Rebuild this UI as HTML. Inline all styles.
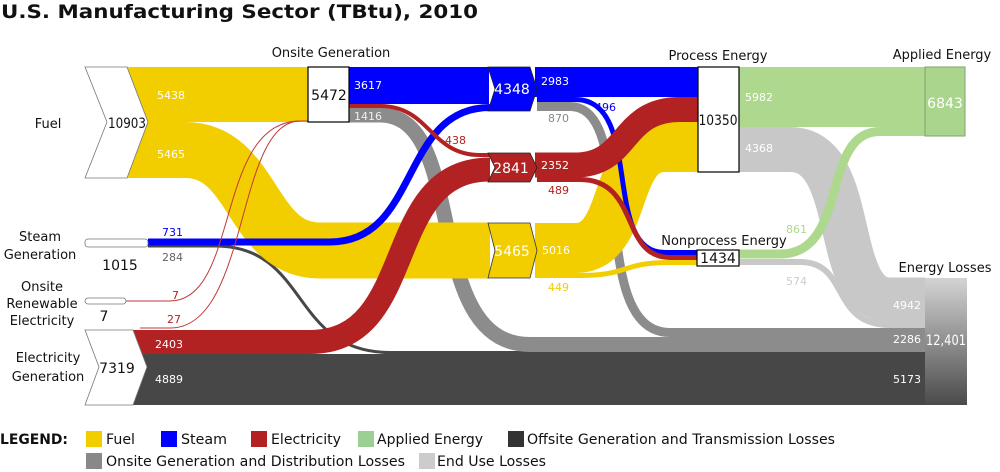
<!DOCTYPE html>
<html><head><meta charset="utf-8"><style>
html,body{margin:0;padding:0;background:#fff;}
svg{display:block;font-family:"DejaVu Sans","Liberation Sans",sans-serif;}
</style></head><body>
<svg width="1000" height="472" viewBox="0 0 1000 472" xmlns="http://www.w3.org/2000/svg">
<defs>
<linearGradient id="lg" x1="0" y1="0" x2="0" y2="1">
<stop offset="0" stop-color="#d4d4d4"/><stop offset="1" stop-color="#4a4a4a"/>
</linearGradient>
</defs>
<text x="1" y="18" font-size="19" font-weight="bold" textLength="477" lengthAdjust="spacingAndGlyphs" fill="#111">U.S. Manufacturing Sector (TBtu), 2010</text>

<g fill="none">
<rect x="133" y="354" width="792" height="51" fill="#474747"/>
<path d="M148,246 L215,246 C310,246 290,352.5 390,352.5 L925,352.5" stroke="#474747" stroke-width="3"/>
<path d="M349,115 L380,115 C470,115 420,344.5 530,344.5 L925,344.5" stroke="#8c8c8c" stroke-width="15"/>
<path d="M537,106.5 L570,106.5 C640,106.5 585,332.5 670,332.5 L925,332.5" stroke="#8c8c8c" stroke-width="9"/>
<polygon points="127,67 308,67 308,122 148,122" fill="#f2cd00"/>
<path d="M127,150 L185,150 C255,150 250,250.5 320,250.5 L490,250.5" stroke="#f2cd00" stroke-width="56"/>
<path d="M535,248 L575,248 C630,248 610,147 665,147 L698,147" stroke="#f2cd00" stroke-width="50"/>
<path d="M535,275.5 L580,275.5 C630,275.5 620,262.5 670,262.5 L698,262.5" stroke="#f2cd00" stroke-width="5"/>
<rect x="349" y="67" width="140" height="37" fill="#0000ff"/>
<rect x="535" y="67" width="163" height="30" fill="#0000ff"/>
<path d="M148,242 L330,242 C420,242 400,107.5 490,107.5" stroke="#0000ff" stroke-width="7"/>
<path d="M537,99.5 L575,99.5 C645,99.5 600,252.5 665,252.5 L698,252.5" stroke="#0000ff" stroke-width="5"/>
<path d="M349,106 L380,106 C430,106 430,155 480,155 L490,155" stroke="#b22222" stroke-width="4"/>
<path d="M120,342 L310,342 C420,342 380,169.5 490,169.5" stroke="#b22222" stroke-width="24"/>
<path d="M535,165 L575,165 C630,165 620,109.5 680,109.5 L698,109.5" stroke="#b22222" stroke-width="25"/>
<path d="M537,179.5 L580,179.5 C640,179.5 620,257.5 670,257.5 L698,257.5" stroke="#b22222" stroke-width="5"/>
<path d="M126,301 L170,301 C240,301 215,121 300,121 L308,121" stroke="#c03a3a" stroke-width="1"/>
<path d="M140,328 L170,328 C250,328 235,121 300,121 L308,121" stroke="#c03a3a" stroke-width="1"/>
<rect x="739" y="67" width="186" height="60" fill="#aed88e"/>
<path d="M739,149.5 L790,149.5 C860,149.5 830,300 890,300 L925,300" stroke="#c8c8c8" stroke-width="45"/>
<path d="M739,262 L800,262 C850,262 830,325 890,325 L925,325" stroke="#c8c8c8" stroke-width="6"/>
<path d="M739,254 L780,254 C850,254 820,131.5 880,131.5 L925,131.5" stroke="#aed88e" stroke-width="9"/>
</g>

<polygon points="85,67 127,67 148,122 127,178 85,178 107,122" fill="#fff" stroke="#777" stroke-width="0.8"/>
<polygon points="85,330 133,330 147,367 133,405 85,405 99,367" fill="#fff" stroke="#777" stroke-width="0.8"/>
<rect x="85" y="239" width="63" height="8" rx="3" fill="#fff" stroke="#777" stroke-width="0.8"/>
<rect x="85" y="298" width="41" height="6" rx="3" fill="#fff" stroke="#777" stroke-width="0.8"/>
<rect x="308" y="67" width="41" height="55" fill="#fff" stroke="#000" stroke-width="1.2"/>
<polygon points="488,67 530,67 537,89 530,111 488,111 495,89" fill="#0000ff" stroke="#222" stroke-width="0.8"/>
<polygon points="488,153 530,153 537,167.5 530,182 488,182 495,167.5" fill="#b22222" stroke="#222" stroke-width="0.8"/>
<polygon points="488,223 530,223 537,250.5 530,278 488,278 495,250.5" fill="#f2cd00" stroke="#333" stroke-width="0.8"/>
<rect x="698" y="67" width="41" height="105" fill="#fff" stroke="#000" stroke-width="1.2"/>
<rect x="697" y="250" width="42" height="16" fill="#fff" stroke="#000" stroke-width="1.2"/>
<rect x="925" y="67" width="40" height="69" fill="#a9d58c" stroke="#7fa36a" stroke-width="1"/>
<rect x="925" y="278" width="42" height="127" fill="url(#lg)"/>

<g font-size="13" fill="#111" text-anchor="middle">
<text x="331" y="57">Onsite Generation</text>
<text x="718" y="60">Process Energy</text>
<text x="942" y="59">Applied Energy</text>
<text x="945" y="272">Energy Losses</text>
<text x="724" y="245">Nonprocess Energy</text>
<text x="48" y="128">Fuel</text>
<text x="40" y="241">Steam</text>
<text x="40" y="259">Generation</text>
<text x="42" y="291">Onsite</text>
<text x="42" y="308">Renewable</text>
<text x="42" y="325">Electricity</text>
<text x="48" y="362">Electricity</text>
<text x="48" y="381">Generation</text>
</g>
<g font-size="14" text-anchor="middle" fill="#111">
<text x="127" y="128" textLength="38" lengthAdjust="spacingAndGlyphs">10903</text>
<text x="329" y="100">5472</text>
<text x="512" y="94" fill="#fff">4348</text>
<text x="511" y="173" fill="#fff">2841</text>
<text x="512" y="256" fill="#fff">5465</text>
<text x="718" y="125" textLength="39" lengthAdjust="spacingAndGlyphs">10350</text>
<text x="718" y="263">1434</text>
<text x="945" y="108" fill="#fff">6843</text>
<text x="946" y="345" fill="#fff" textLength="40" lengthAdjust="spacingAndGlyphs">12,401</text>
<text x="117" y="373">7319</text>
<text x="120" y="270">1015</text>
<text x="104" y="321">7</text>
</g>
<g font-size="11" fill="#fff">
<text x="157" y="99">5438</text>
<text x="157" y="158">5465</text>
<text x="354" y="89">3617</text>
<text x="354" y="120" fill="#eee">1416</text>
<text x="445" y="144" fill="#b22222">438</text>
<text x="162" y="236" fill="#0000ff">731</text>
<text x="162" y="261" fill="#666">284</text>
<text x="172" y="299" fill="#b22222">7</text>
<text x="167" y="323" fill="#b22222">27</text>
<text x="155" y="348">2403</text>
<text x="155" y="383">4889</text>
<text x="541" y="85">2983</text>
<text x="548" y="122" fill="#888">870</text>
<text x="595" y="111" fill="#0000ff">496</text>
<text x="541" y="169">2352</text>
<text x="548" y="194" fill="#b22222">489</text>
<text x="542" y="254">5016</text>
<text x="548" y="291" fill="#f2cd00">449</text>
<text x="745" y="101">5982</text>
<text x="745" y="152">4368</text>
<text x="786" y="233" fill="#aed88e">861</text>
<text x="786" y="285" fill="#ccc">574</text>
<text x="893" y="309">4942</text>
<text x="893" y="343">2286</text>
<text x="893" y="383">5173</text>
</g>

<g font-size="14" fill="#111">
<text x="0" y="444" font-weight="bold" textLength="68" lengthAdjust="spacingAndGlyphs">LEGEND:</text>
<rect x="86" y="431" width="16" height="16" fill="#f2cd00"/><text x="106" y="444" textLength="29" lengthAdjust="spacingAndGlyphs">Fuel</text>
<rect x="161" y="431" width="16" height="16" fill="#0000ff"/><text x="181" y="444" textLength="46" lengthAdjust="spacingAndGlyphs">Steam</text>
<rect x="251" y="431" width="16" height="16" fill="#b22222"/><text x="271" y="444" textLength="70" lengthAdjust="spacingAndGlyphs">Electricity</text>
<rect x="358" y="431" width="16" height="16" fill="#9ccf94"/><text x="377" y="444" textLength="106" lengthAdjust="spacingAndGlyphs">Applied Energy</text>
<rect x="508" y="431" width="16" height="16" fill="#333"/><text x="527" y="444" textLength="308" lengthAdjust="spacingAndGlyphs">Offsite Generation and Transmission Losses</text>
<rect x="86" y="453" width="16" height="16" fill="#888"/><text x="106" y="466" textLength="299" lengthAdjust="spacingAndGlyphs">Onsite Generation and Distribution Losses</text>
<rect x="419" y="453" width="16" height="16" fill="#ccc"/><text x="437" y="466" textLength="109" lengthAdjust="spacingAndGlyphs">End Use Losses</text>
</g>
</svg>
</body></html>
